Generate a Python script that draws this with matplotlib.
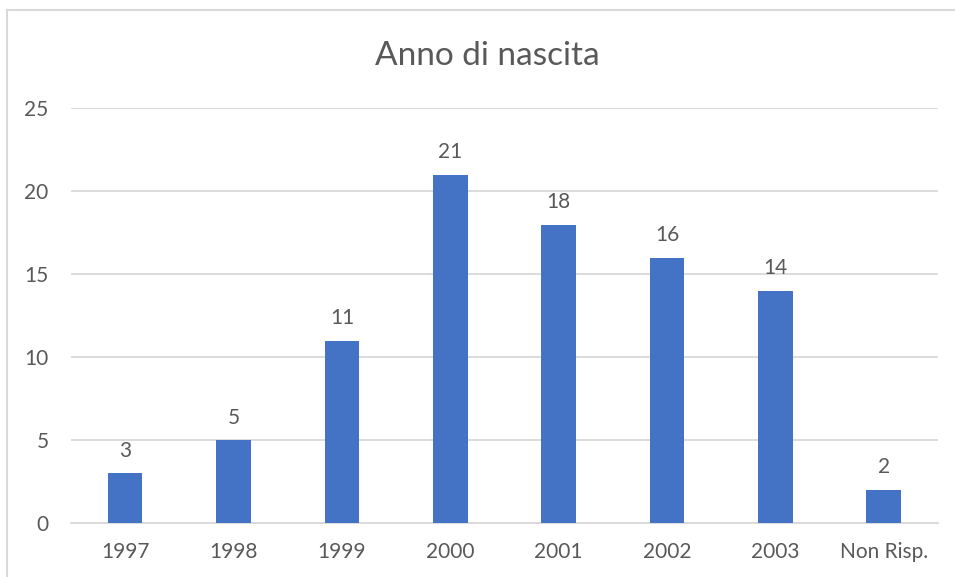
import matplotlib
matplotlib.use("Agg")
import matplotlib.pyplot as plt
from matplotlib.lines import Line2D

# data
categories = ["1997", "1998", "1999", "2000", "2001", "2002", "2003", "Non Risp."]
counts = [3, 5, 11, 21, 18, 16, 14, 2]
title = "Anno di nascita"

textColor = "#595959"
plt.rcParams['font.family'] = ['Lato', 'DejaVu Sans']

fig = plt.figure(figsize=(9.55, 5.77), dpi=100)
ax = fig.add_axes([0.0743, 0.0936, 0.9079, 0.7184])

xs = range(len(categories))
bars = ax.bar(xs, counts, width=0.32, color="#4472C4", zorder=3)
for x, v in zip(xs, counts):  # value labels above bars
    ax.annotate(str(v), (x, v), xytext=(0, 9), textcoords="offset points",
                ha="center", va="bottom", fontsize=15, color=textColor)

ax.set_xlim(-0.5, len(categories) - 0.5)
ax.set_ylim(0, 25)
ax.set_yticks(range(0, 26, 5))
ax.set_xticks(list(xs))
ax.set_xticklabels(categories)
ax.tick_params(length=0, labelsize=15, labelcolor=textColor)
ax.tick_params(axis="x", pad=14)
ax.tick_params(axis="y", pad=16)
ax.yaxis.grid(True, color="#D9D9D9", linewidth=1.3, zorder=0)
for side in ["top", "right", "left"]:
    ax.spines[side].set_visible(False)
ax.spines["bottom"].set_color("#D9D9D9")
ax.spines["bottom"].set_linewidth(1.3)

fig.text(0.51, 0.903, title, ha="center", va="center", fontsize=24, color=textColor)

# chart frame, only left and top visible in the crop
fig.add_artist(Line2D([7/955, 7/955], [0, 1 - 10/577], transform=fig.transFigure, color="#D9D9D9", lw=1.5))
fig.add_artist(Line2D([7/955, 1], [1 - 10/577, 1 - 10/577], transform=fig.transFigure, color="#D9D9D9", lw=1.5))

fig.savefig("out.png", dpi=100)
